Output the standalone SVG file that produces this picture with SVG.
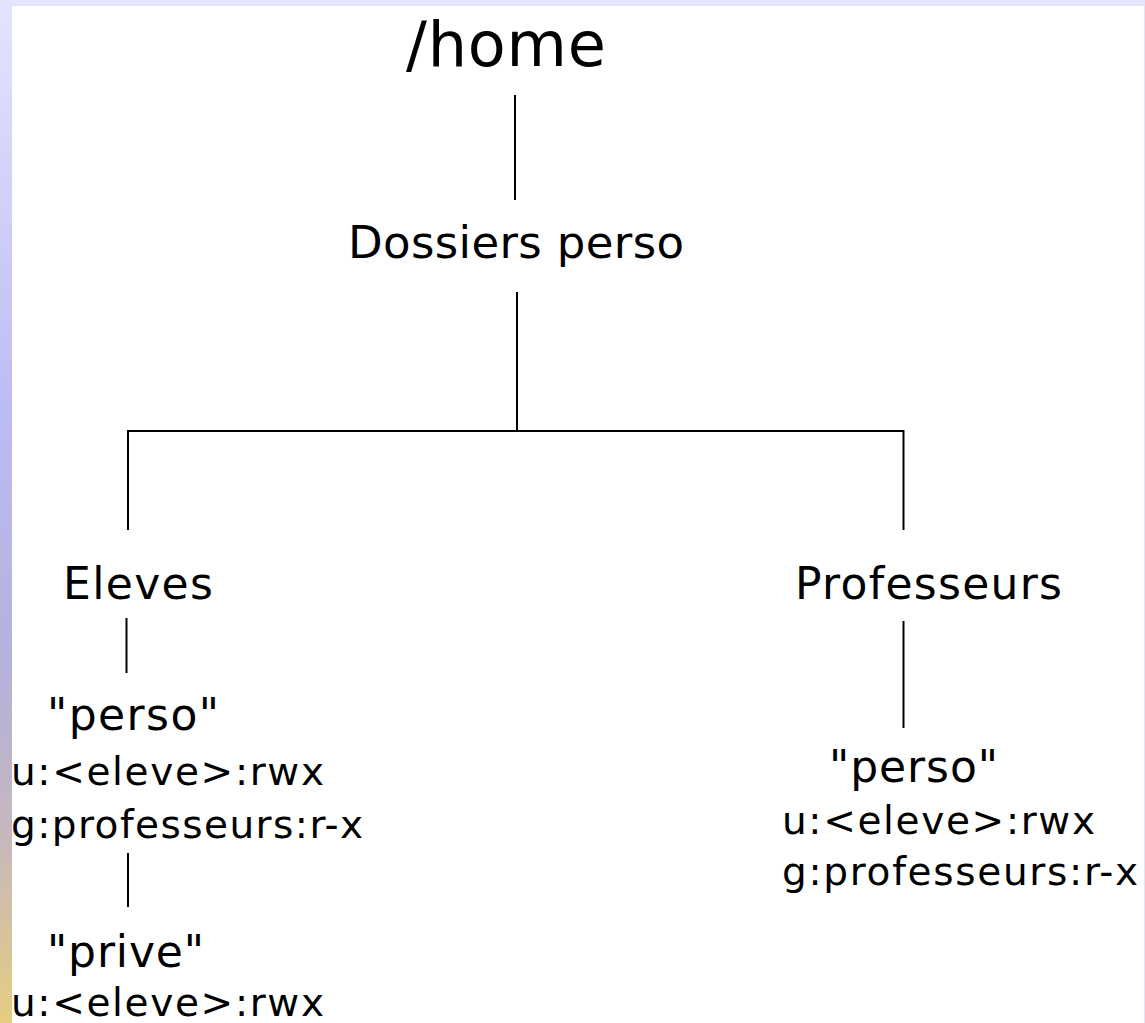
<svg xmlns="http://www.w3.org/2000/svg" width="1145" height="1023" viewBox="0 0 1145 1023">
<style>
text{font-family:"DejaVu Sans","Liberation Sans",sans-serif;fill:#000}
.t62{font-size:62px}
.t45{font-size:45px}
.t44{font-size:44px}
.t39{font-size:39px}
.c line{stroke:#000;stroke-width:2;fill:none}
</style>
<defs>
<linearGradient id="side" x1="0" y1="0" x2="0" y2="1">
<stop offset="0" stop-color="#e4e4fe"/>
<stop offset="0.4" stop-color="#bcbcf4"/>
<stop offset="0.65" stop-color="#b4b1dc"/>
<stop offset="0.82" stop-color="#c6b8bc"/>
<stop offset="1" stop-color="#e6cd80"/>
</linearGradient>
</defs>
<g id="background">
<rect x="0" y="0" width="1145" height="1023" fill="#ffffff"/>
<rect x="0" y="0" width="1145" height="6" fill="#e4e4fe"/>
<rect x="0" y="0" width="12" height="1023" fill="url(#side)"/>
<rect x="1144" y="6" width="1" height="1017" fill="#e2e2f8"/>
</g>
<g id="connectors" class="c">
<line x1="515" y1="95" x2="515" y2="200"/>
<line x1="517" y1="292" x2="517" y2="431"/>
<line x1="127" y1="431" x2="904" y2="431"/>
<line x1="128" y1="430" x2="128" y2="530"/>
<line x1="903.5" y1="430" x2="903.5" y2="530"/>
<line x1="126.5" y1="618" x2="126.5" y2="673"/>
<line x1="903.5" y1="621" x2="903.5" y2="728"/>
<line x1="128" y1="853" x2="128" y2="907"/>
</g>
<g id="node-home"><text class="t62" x="406" y="66" textLength="200">/home</text></g>
<g id="node-dossiers"><text class="t45" x="348" y="258" textLength="336">Dossiers perso</text></g>
<g id="node-eleves"><text class="t44" x="63" y="599" textLength="150">Eleves</text></g>
<g id="node-professeurs"><text class="t44" x="795" y="599" textLength="267">Professeurs</text></g>
<g id="node-eleves-perso">
<text class="t44" x="47" y="730" textLength="172">"perso"</text>
<text class="t39" x="11" y="785" textLength="313">u:&lt;eleve&gt;:rwx</text>
<text class="t39" x="11" y="838" textLength="352">g:professeurs:r-x</text>
</g>
<g id="node-prive">
<text class="t44" x="47" y="967" textLength="157">"prive"</text>
<text class="t39" x="11" y="1016" textLength="313">u:&lt;eleve&gt;:rwx</text>
</g>
<g id="node-professeurs-perso">
<text class="t44" x="829" y="782" textLength="169">"perso"</text>
<text class="t39" x="782" y="834" textLength="313">u:&lt;eleve&gt;:rwx</text>
<text class="t39" x="782" y="885" textLength="356">g:professeurs:r-x</text>
</g>
</svg>
